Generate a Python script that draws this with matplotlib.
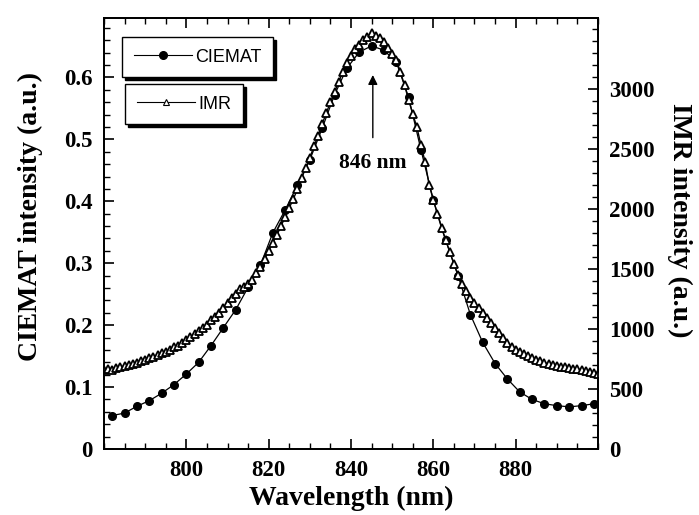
import matplotlib.pyplot as plt
from matplotlib.lines import Line2D
from matplotlib.ticker import MultipleLocator

# CIEMAT spectrum (left axis), sampled every 3 nm
ciemat_nm = list(range(782, 900, 3))
ciemat_val = [0.054, 0.058, 0.069, 0.078, 0.090, 0.104, 0.121, 0.140, 0.167, 0.196,
              0.225, 0.261, 0.297, 0.349, 0.386, 0.426, 0.467, 0.518, 0.572, 0.615,
              0.641, 0.651, 0.644, 0.625, 0.568, 0.483, 0.402, 0.337, 0.280, 0.217,
              0.172, 0.138, 0.113, 0.092, 0.080, 0.073, 0.070, 0.068, 0.070, 0.073]

# IMR spectrum (right axis), every 1 nm
imr_nm = list(range(780, 901))
imr_val = [658, 667, 662, 675, 683, 690, 700, 712, 717, 733,
           742, 755, 767, 785, 800, 808, 828, 850, 862, 883,
           908, 930, 962, 983, 1010, 1033, 1078, 1100, 1135, 1175,
           1217, 1262, 1292, 1330, 1350, 1372, 1408, 1467, 1517, 1583,
           1650, 1720, 1783, 1858, 1933, 2010, 2083, 2167, 2258, 2342,
           2425, 2525, 2608, 2710, 2800, 2892, 2975, 3058, 3142, 3217,
           3275, 3330, 3367, 3410, 3430, 3470, 3440, 3425, 3392, 3342,
           3292, 3242, 3142, 3033, 2908, 2792, 2683, 2533, 2392, 2200,
           2075, 1958, 1842, 1742, 1642, 1542, 1450, 1375, 1317, 1258,
           1217, 1175, 1133, 1092, 1050, 1008, 967, 925, 883, 850,
           825, 808, 792, 775, 758, 742, 733, 717, 708, 700,
           692, 683, 683, 675, 667, 667, 658, 650, 642, 633, 625]

serif = 'Liberation Serif'
sans = 'Liberation Sans'

fig = plt.figure(figsize=(6.99, 5.15), dpi=100)
ax = fig.add_axes([0.1488, 0.1282, 0.7067, 0.8368])
ax2 = ax.twinx()

ax.plot(ciemat_nm, ciemat_val, color='black', lw=0.9, marker='o', ms=5.5, zorder=3)
ax2.plot(imr_nm, imr_val, color='black', lw=1.0, marker='^', ms=6, mfc='white',
         mec='black', mew=1.3)

ax.set_xlim(780, 900)
ax.set_ylim(0, 0.696)
ax2.set_ylim(0, 3592)

ax.xaxis.set_major_locator(MultipleLocator(20))
ax.xaxis.set_minor_locator(MultipleLocator(5))
ax.yaxis.set_major_locator(MultipleLocator(0.1))
ax.yaxis.set_minor_locator(MultipleLocator(0.02))
ax2.yaxis.set_major_locator(MultipleLocator(500))
ax2.yaxis.set_minor_locator(MultipleLocator(100))
ax.set_xticks([800, 820, 840, 860, 880])
ax.set_yticks([0, 0.1, 0.2, 0.3, 0.4, 0.5, 0.6])
ax.set_yticklabels(['0', '0.1', '0.2', '0.3', '0.4', '0.5', '0.6'])
ax2.set_yticks([0, 500, 1000, 1500, 2000, 2500, 3000])

ax.tick_params(axis='x', which='both', direction='in', top=True, bottom=True)
ax.tick_params(axis='y', which='both', direction='in', left=True, right=False)
ax2.tick_params(axis='y', which='both', direction='in', right=True, left=False)
for a in (ax, ax2):
    a.tick_params(which='major', length=7, width=1.2, pad=8)
    a.tick_params(which='minor', length=4, width=1.0)
    for lab in a.get_xticklabels() + a.get_yticklabels():
        lab.set_fontfamily(serif)
        lab.set_fontweight('bold')
        lab.set_fontsize(16.5)
    for s in a.spines.values():
        s.set_linewidth(1.3)

ax.set_xlabel('Wavelength (nm)', fontfamily=serif, fontweight='bold', fontsize=20, va='center')
ax.xaxis.set_label_coords(0.5, -0.114)
ax.set_ylabel('CIEMAT intensity (a.u.)', fontfamily=serif, fontweight='bold', fontsize=20,
              va='center')
ax.yaxis.set_label_coords(-0.148, 0.54)
ax2.set_ylabel('IMR intensity (a.u.)', fontfamily=serif, fontweight='bold', fontsize=20,
               rotation=270, va='center')
ax2.yaxis.set_label_coords(1.165, 0.53)

ax.annotate('846 nm', xy=(845.3, 0.604), xytext=(845.3, 0.462),
            ha='center', va='center', fontfamily=serif, fontweight='bold', fontsize=15.5,
            arrowprops=dict(arrowstyle='-|>', color='black', lw=1.0, mutation_scale=14,
                            shrinkA=9, shrinkB=0))

# two separate legend boxes with solid shadow
h1 = Line2D([], [], color='black', lw=0.8, marker='o', ms=5.5)
h2 = Line2D([], [], color='black', lw=0.8, marker='^', ms=4, mfc='white', mew=0.8)
kw = dict(frameon=True, fancybox=False, shadow={'color': 'black', 'alpha': 1},
          prop={'family': sans, 'size': 13}, handlelength=3.2, borderpad=0.65,
          handletextpad=0.2, borderaxespad=0, edgecolor='black', framealpha=1)
leg1 = ax2.legend([h1], ['CIEMAT'], loc='upper left',
                  bbox_to_anchor=(122 / 699, 1 - 37 / 515), bbox_transform=fig.transFigure, **kw)
leg1.get_frame().set_linewidth(1.0)
ax2.add_artist(leg1)
leg2 = ax2.legend([h2], ['IMR'], loc='upper left',
                  bbox_to_anchor=(125 / 699, 1 - 84 / 515), bbox_transform=fig.transFigure, **kw)
leg2.get_frame().set_linewidth(1.0)

fig.savefig('out.png', dpi=100)
